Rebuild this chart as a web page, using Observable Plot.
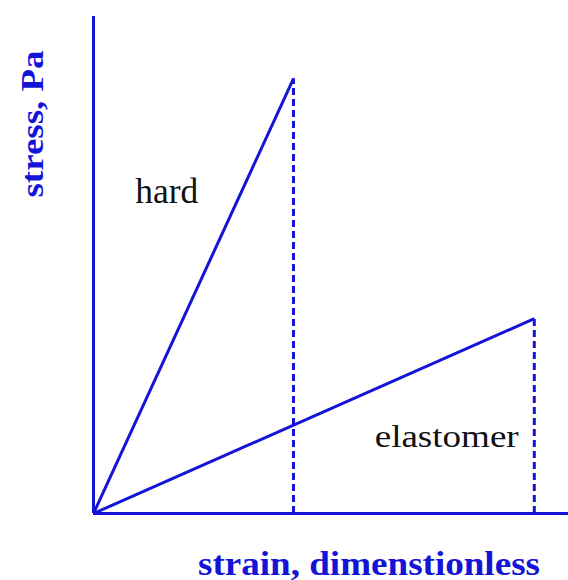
<!DOCTYPE html>
<html>
<head>
<meta charset="utf-8">
<script src="https://cdn.jsdelivr.net/npm/d3@7"></script>
<script src="https://cdn.jsdelivr.net/npm/@observablehq/plot@0.6"></script>
<style>
  html, body { margin: 0; padding: 0; background: #fff; }
  #chart { width: 568px; height: 580px; }
</style>
</head>
<body>
<div id="chart"></div>
<script>
// Data (arbitrary units)
const materials = ["hard", "elastomer"];
const breakStrain = [4.21, 9.28];
const breakStress = [8.75, 3.92];
const labelStrain = [0.88, 5.92];
const labelStress = [6.24, 1.33];
const xTitle = "strain, dimenstionless";
const yTitle = "stress, Pa";

const blue = "#1414d8";
const rows = materials.map((m, i) => ({
  name: m, x: breakStrain[i], y: breakStress[i], lx: labelStrain[i], ly: labelStress[i]
}));

const chart = Plot.plot({
  width: 568,
  height: 580,
  marginLeft: 93,
  marginRight: 0,
  marginTop: 16,
  marginBottom: 67,
  x: {domain: [0, 10], axis: null},
  y: {domain: [0, 10], axis: null},
  style: {background: "#fff", fontFamily: "'Liberation Serif', 'Times New Roman', serif"},
  marks: [
    Plot.ruleX([0], {stroke: blue, strokeWidth: 3}),
    Plot.ruleY([0], {stroke: blue, strokeWidth: 3}),
    Plot.link(rows, {x1: 0, y1: 0, x2: "x", y2: "y", stroke: blue, strokeWidth: 3}),
    Plot.ruleX(rows, {x: "x", y1: 0, y2: "y", stroke: blue, strokeWidth: 3, strokeDasharray: "7,4"}),
    Plot.text(rows, {
      x: "lx", y: "ly", text: "name", textAnchor: "start", lineAnchor: "bottom",
      fill: "#111", fontSize: d => d.name === "hard" ? 36 : 31
    }),
    Plot.text([xTitle], {
      frameAnchor: "bottom", dx: 38, dy: 61, textAnchor: "middle", lineAnchor: "bottom",
      fill: blue, fontSize: 33, fontWeight: "bold"
    }),
    Plot.text([yTitle], {
      frameAnchor: "left", rotate: -90, dx: -51, dy: -141, textAnchor: "middle", lineAnchor: "bottom",
      fill: blue, fontSize: 31, fontWeight: "bold"
    })
  ]
});

const lengths = {"hard": 63, "elastomer": 144};
lengths[xTitle] = 342;
lengths[yTitle] = 147;
d3.select(chart).selectAll("text").each(function() {
  const t = this.textContent;
  if (lengths[t]) {
    d3.select(this).attr("textLength", lengths[t]).attr("lengthAdjust", "spacingAndGlyphs");
  }
});

document.getElementById("chart").appendChild(chart);
</script>
</body>
</html>
